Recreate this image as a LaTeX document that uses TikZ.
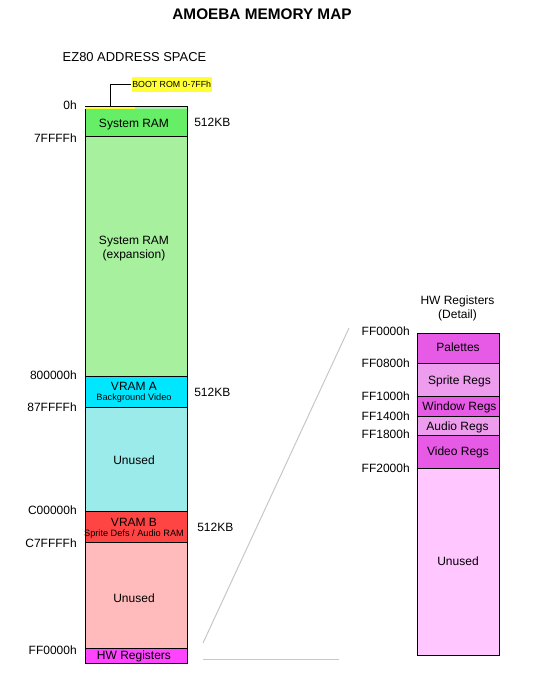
\documentclass[tikz,border=0pt]{standalone}
\usepackage{fontspec}
\setmainfont{Liberation Sans}
\definecolor{ramgreen}{HTML}{66EE66}
\definecolor{expgreen}{HTML}{A6F09E}
\definecolor{vramcyan}{HTML}{00E6FF}
\definecolor{unusedcyan}{HTML}{9CEBEB}
\definecolor{vramred}{HTML}{FF4444}
\definecolor{unusedpink}{HTML}{FFBBBB}
\definecolor{hwmagenta}{HTML}{FF44FF}
\definecolor{regdark}{HTML}{E65AE6}
\definecolor{reglight}{HTML}{EE9CEE}
\definecolor{unusedlilac}{HTML}{FFC6FF}
\definecolor{bootyellow}{HTML}{FFFF33}
\begin{document}
\begin{tikzpicture}[x=0.75pt,y=-0.75pt,font=\fontsize{9}{10.5}\selectfont,
  region/.style={draw=black,line width=0.75pt},
  txt/.style={inner sep=0pt,text height=6.4pt,text depth=0pt},
  addr/.style={txt,anchor=east},
  size/.style={txt,anchor=west},
  tinytxt/.style={txt,text height=5pt,font=\fontsize{6.9}{8}\selectfont},
  zoomline/.style={draw=black!22,line width=0.75pt}]
\useasboundingbox (0,0) rectangle (534,696);
\node[txt,font=\bfseries\fontsize{11.5}{13}\selectfont] (title) at (262,15) {AMOEBA MEMORY MAP};
\node[txt,font=\fontsize{9.7}{11}\selectfont] (space) at (134.5,57) {EZ80 ADDRESS SPACE};
\draw [region,fill=ramgreen] (85,106.5) rectangle (187,136.7) ;
\fill [bootyellow] (85.4,107) rectangle (135,109) ;
\fill [ramgreen!60!white] (135,107) rectangle (186.6,109) ;
\node[txt] (sysram) at (134,123) {System RAM};
\draw [region,fill=expgreen] (85,136.7) rectangle (187,376) ;
\node[align=center,inner sep=0pt] (sysexp) at (134,249) {System RAM\\(expansion)};
\draw [region,fill=vramcyan] (85,376) rectangle (187,407.3) ;
\node[txt] (vrama) at (134,386) {VRAM A};
\node[tinytxt] (vramadesc) at (134,397.5) {Background Video};
\draw [region,fill=unusedcyan] (85,407.3) rectangle (187,511.7) ;
\node[txt] (unuseda) at (134,460) {Unused};
\draw [region,fill=vramred] (85,511.7) rectangle (187,542.3) ;
\node[txt] (vramb) at (134,522) {VRAM B};
\node[tinytxt] (vrambdesc) at (134,533) {Sprite Defs / Audio RAM};
\draw [region,fill=unusedpink] (85,542.3) rectangle (187,648.3) ;
\node[txt] (unusedb) at (134,598) {Unused};
\draw [region,fill=hwmagenta] (85,648.3) rectangle (187,663.3) ;
\node[txt] (hwregs) at (134,655.5) {HW Registers};
\node[addr] at (77,105) {0h} ;
\node[addr] at (77,138) {7FFFFh} ;
\node[addr] at (77,375.5) {800000h} ;
\node[addr] at (77,407) {87FFFFh} ;
\node[addr] at (77,510) {C00000h} ;
\node[addr] at (77,543) {C7FFFFh} ;
\node[addr] at (77,650) {FF0000h} ;
\node[size] at (194,122.5) {512KB} ;
\node[size] at (194,392) {512KB} ;
\node[size] at (197,527) {512KB} ;
\node[fill=bootyellow,inner sep=0pt,minimum width=60pt,minimum height=11.25pt,font=\fontsize{6.6}{7}\selectfont] (bootrom) at (171.7,84.8) {BOOT ROM 0-7FFh};
\coordinate (bootstrip) at (110.7,107) ;
\draw [line width=0.75pt] (bootrom.west) -| (bootstrip) ;
\coordinate (hwtop) at (203,643) ;
\coordinate (hwbot) at (203,659) ;
\coordinate (dettop) at (349,328) ;
\coordinate (detbot) at (339,659) ;
\draw [zoomline] (hwtop) -- (dettop) ;
\draw [zoomline] (hwbot) -- (detbot) ;
\node[align=center,inner sep=0pt] (dettitle) at (457.5,308.5) {HW Registers\\(Detail)};
\draw [region,fill=regdark] (417.5,333) rectangle (499,363.5) ;
\node[txt] (palettes) at (458,347) {Palettes};
\draw [region,fill=reglight] (417.5,363.5) rectangle (499,396.7) ;
\node[txt] (spriteregs) at (459.5,380) {Sprite Regs};
\draw [region,fill=regdark] (417.5,396.7) rectangle (499,416.7) ;
\node[txt] (windowregs) at (459.5,406) {Window Regs};
\draw [region,fill=reglight] (417.5,416.7) rectangle (499,435.7) ;
\node[txt] (audioregs) at (457.5,426) {Audio Regs};
\draw [region,fill=regdark] (417.5,435.7) rectangle (499,468.3) ;
\node[txt] (videoregs) at (458,451) {Video Regs};
\draw [region,fill=unusedlilac] (417.5,468.3) rectangle (499,655) ;
\node[txt] (unusedc) at (458,561) {Unused};
\node[addr] at (410,331.5) {FF0000h} ;
\node[addr] at (410,363) {FF0800h} ;
\node[addr] at (410,396.7) {FF1000h} ;
\node[addr] at (410,416) {FF1400h} ;
\node[addr] at (410,434.5) {FF1800h} ;
\node[addr] at (410,468.5) {FF2000h} ;
\end{tikzpicture}
\end{document}
